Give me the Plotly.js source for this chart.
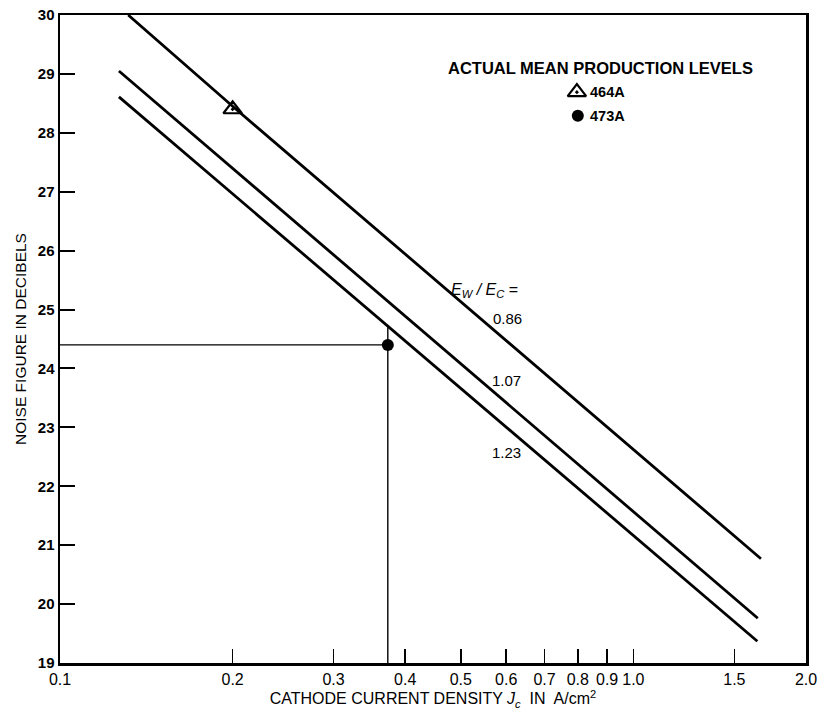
<!DOCTYPE html>
<html><head><meta charset="utf-8">
<script src="https://cdn.plot.ly/plotly-3.0.1.min.js"></script>
<style>body{margin:0;background:#fff}#c{width:820px;height:710px}</style>
</head><body><div id="c"></div>
<script>
// Noise figure lines for Ew/Ec ratios (x: A/cm^2, y: dB)
const line086_x = [0.1315, 0.2, 1.669];
const line086_y = [30.0, 28.45, 20.77];
const line107_x = [0.1267, 1.648];
const line107_y = [29.05, 19.76];
const line123_x = [0.1267, 1.645];
const line123_y = [28.61, 19.37];
// Actual mean production levels
const tube464_x = [0.2];
const tube464_y = [28.4];
const tube473_x = [0.373];
const tube473_y = [24.4];
const refH_x = [0.1, 0.373];
const refH_y = [24.4, 24.4];
const refV_x = [0.373, 0.373];
const refV_y = [19, 24.7];
const xTickVals = [0.1,0.2,0.3,0.4,0.5,0.6,0.7,0.8,0.9,1.0,1.5,2.0];
const xTickText = ["0.1","0.2","0.3","0.4","0.5","0.6","0.7","0.8","0.9","1.0","1.5","2.0"];
const yTickVals = [19,20,21,22,23,24,25,26,27,28,29,30];
const ratioLabels = ["0.86","1.07","1.23"];
const tubeNames = ["464A","473A"];

const lineStyle = {color:'#000', width:2.8};
const triMarker = {symbol:'triangle-up-open-dot', size:16, color:'#000', line:{width:2.2,color:'#000'}};
const dotMarker = {symbol:'circle', size:12, color:'#000'};
const traces = [
  {x:line086_x, y:line086_y, mode:'lines', line:lineStyle},
  {x:line107_x, y:line107_y, mode:'lines', line:lineStyle},
  {x:line123_x, y:line123_y, mode:'lines', line:lineStyle},
  {x:refH_x, y:refH_y, mode:'lines', line:{color:'#000', width:1.4}},
  {x:refV_x, y:refV_y, mode:'lines', line:{color:'#000', width:1.4}},
  {x:tube464_x, y:tube464_y, mode:'markers', marker:triMarker, name:tubeNames[0]},
  {x:tube473_x, y:tube473_y, mode:'markers', marker:dotMarker, name:tubeNames[1]},
  // legend key glyphs
  {x:[0.797], y:[28.69], mode:'markers', marker:triMarker},
  {x:[0.800], y:[28.29], mode:'markers', marker:dotMarker},
];
const L = Math.log10;
const txt = (x, y, text, size, extra) => Object.assign({xref:'x', yref:'y', x:L(x), y:y, text:text, showarrow:false,
  font:{size:size, color:'#000', family:'Liberation Sans, Arial, sans-serif'}}, extra||{});
const layout = {
  width:820, height:710,
  margin:{l:60, r:14, t:15, b:47},
  showlegend:false,
  paper_bgcolor:'#fff', plot_bgcolor:'#fff',
  font:{family:'Liberation Sans, Arial, sans-serif', color:'#000'},
  xaxis:{type:'log', range:[L(0.1), L(2.0)],
    tickvals:xTickVals, ticktext:xTickText, ticks:'inside', ticklen:14, tickwidth:1.5, tickcolor:'#000',
    showgrid:false, zeroline:false, showline:true, linewidth:2.5, linecolor:'#000', mirror:true,
    tickfont:{family:'Liberation Sans Narrow, Liberation Sans, sans-serif', size:16, color:'#000'},
    title:{text:'CATHODE CURRENT DENSITY <i>J<sub>c</sub></i>  IN  A/cm<sup>2</sup>', font:{size:16, color:'#000'}, standoff:6}},
  yaxis:{range:[19,30], tickvals:yTickVals, ticks:'inside', ticklen:15, tickwidth:2, tickcolor:'#000',
    showgrid:false, zeroline:false, showline:true, linewidth:2.5, linecolor:'#000', mirror:true,
    tickfont:{size:15, color:'#000', weight:'bold'},
    title:{text:'NOISE FIGURE IN DECIBELS', font:{size:15.5, color:'#000'}, standoff:8}},
  annotations:[
    txt(0.878, 29.10, '<b>ACTUAL MEAN PRODUCTION LEVELS</b>', 16.5),
    txt(0.833, 28.69, '<b>'+tubeNames[0]+'</b>', 14.5, {xanchor:'left'}),
    txt(0.833, 28.29, '<b>'+tubeNames[1]+'</b>', 14.5, {xanchor:'left'}),
    txt(0.551, 25.33, '<i>E<sub>W</sub> / E<sub>C</sub></i> =', 16),
    txt(0.604, 24.84, ratioLabels[0], 15),
    txt(0.600, 23.80, ratioLabels[1], 15),
    txt(0.600, 22.58, ratioLabels[2], 15),
  ]
};
Plotly.newPlot('c', traces, layout, {staticPlot:true});
</script></body></html>
